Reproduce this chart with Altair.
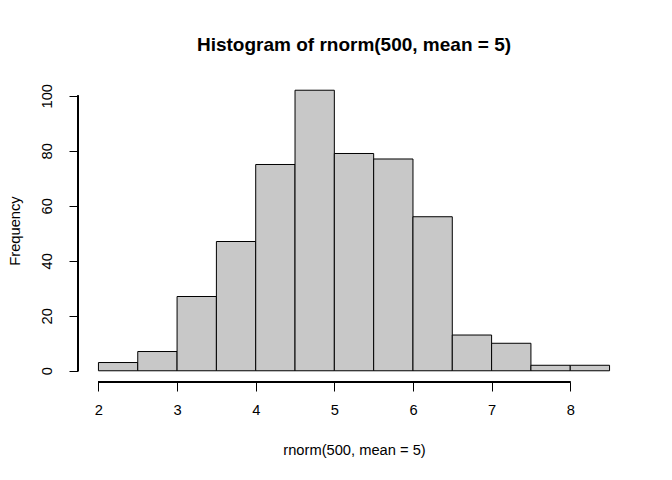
import altair as alt
import pandas as pd

bin_start = [2.0, 2.5, 3.0, 3.5, 4.0, 4.5, 5.0, 5.5, 6.0, 6.5, 7.0, 7.5, 8.0]
bin_end = [2.5, 3.0, 3.5, 4.0, 4.5, 5.0, 5.5, 6.0, 6.5, 7.0, 7.5, 8.0, 8.5]
counts = [3, 7, 27, 47, 75, 102, 79, 77, 56, 13, 10, 2, 2]
x_ticks = [2, 3, 4, 5, 6, 7, 8]
y_ticks = [0, 20, 40, 60, 80, 100]

df = pd.DataFrame({"start": bin_start, "end": bin_end, "count": counts})

W, H = 552, 303
FONT = "Liberation Sans"
FS = 14.7

xscale = alt.Scale(domain=[1.74, 8.76], nice=False, zero=False)
yscale = alt.Scale(domain=[-4.08, 106.08], nice=False, zero=False)

bars = alt.Chart(df).mark_rect(fill="#c8c8c8", stroke="black", strokeWidth=1).encode(
    x=alt.X("start:Q", scale=xscale, axis=alt.Axis(
        values=x_ticks, format="d", domain=False, grid=False, tickSize=9,
        tickColor="black", tickWidth=1, labelFont=FONT, labelFontSize=FS,
        labelColor="black", labelPadding=11, labelBaseline="top",
        title="rnorm(500, mean = 5)", titleFont=FONT, titleFontSize=FS,
        titleFontWeight="normal", titleColor="black", titlePadding=26,
        labelFlush=False)),
    x2="end:Q",
    y=alt.Y("count:Q", scale=yscale, axis=alt.Axis(
        values=y_ticks, format="d", domain=False, grid=False, tickSize=9,
        tickColor="black", tickWidth=1, labelFont=FONT, labelFontSize=FS,
        labelColor="black", labelAngle=270, labelAlign="center",
        labelBaseline="bottom", labelPadding=15, title="Frequency",
        titleFont=FONT, titleFontSize=FS, titleFontWeight="normal",
        titleColor="black", titlePadding=17, labelFlush=False)),
    y2=alt.datum(0),
)

xline = alt.Chart(df).mark_rule(color="black", strokeWidth=1).encode(
    x=alt.datum(x_ticks[0], scale=xscale), x2=alt.datum(x_ticks[-1]),
    y=alt.value(H),
)
yline = alt.Chart(df).mark_rule(color="black", strokeWidth=1).encode(
    y=alt.datum(y_ticks[0], scale=yscale), y2=alt.datum(y_ticks[-1]),
    x=alt.value(0),
)

chart = alt.layer(bars, xline, yline).properties(
    width=W, height=H,
    title=alt.TitleParams("Histogram of rnorm(500, mean = 5)", font=FONT,
                          fontSize=19, fontWeight="bold", color="black",
                          anchor="middle", offset=24),
    autosize=alt.AutoSizeParams(type="none"),
    padding={"left": 70, "top": 71, "right": 34, "bottom": 80},
).configure_view(stroke=None)

chart.save("out.html", embed_options={"renderer": "svg", "actions": False})
